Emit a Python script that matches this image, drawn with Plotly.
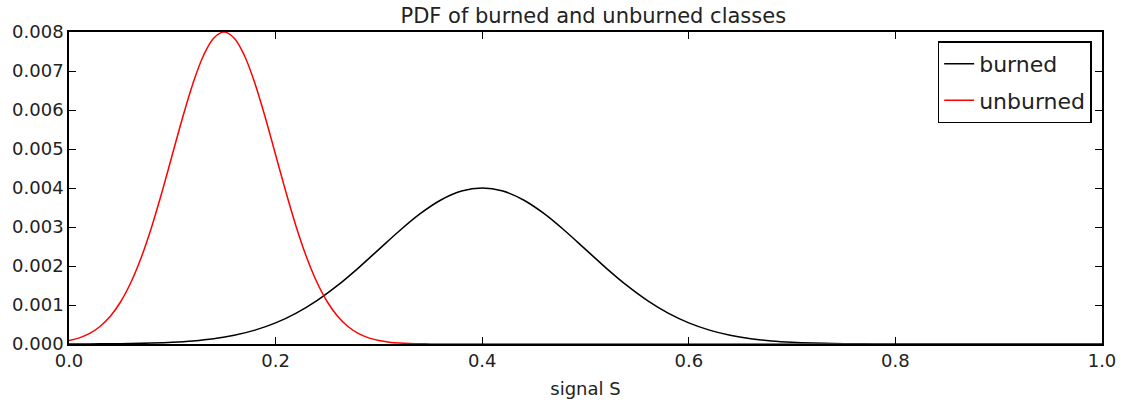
import plotly.graph_objects as go

# burned class
burned_x = [0.00, 0.02, 0.04, 0.06, 0.08, 0.10, 0.12, 0.14, 0.16, 0.18,
            0.20, 0.22, 0.24, 0.26, 0.28, 0.30, 0.32, 0.34, 0.36, 0.38,
            0.40, 0.42, 0.44, 0.46, 0.48, 0.50, 0.52, 0.54, 0.56, 0.58,
            0.60, 0.62, 0.64, 0.66, 0.68, 0.70, 0.72, 0.74, 0.76, 0.78,
            0.80, 0.82, 0.84, 0.90, 1.00]
burned_y = [0.0000013, 0.0000029, 0.0000061, 0.0000124, 0.0000239, 0.0000444,
            0.0000792, 0.000136, 0.000224, 0.000356, 0.000541, 0.000792,
            0.001112, 0.001501, 0.001947, 0.002426, 0.002904, 0.003341,
            0.003692, 0.003921, 0.004000, 0.003921, 0.003692, 0.003341,
            0.002904, 0.002426, 0.001947, 0.001501, 0.001112, 0.000792,
            0.000541, 0.000356, 0.000224, 0.000136, 0.0000792, 0.0000444,
            0.0000239, 0.0000124, 0.0000061, 0.0000029, 0.0000013, 0.0000006,
            0.0000003, 0.0, 0.0]

# unburned class
unburned_x = [0.00, 0.01, 0.02, 0.03, 0.04, 0.05, 0.06, 0.07, 0.08, 0.09,
              0.10, 0.11, 0.12, 0.13, 0.14, 0.15, 0.16, 0.17, 0.18, 0.19,
              0.20, 0.21, 0.22, 0.23, 0.24, 0.25, 0.26, 0.27, 0.28, 0.29,
              0.30, 0.31, 0.32, 0.33, 0.34, 0.35, 0.36, 0.37, 0.40, 0.50,
              0.60, 0.70, 0.80, 0.90, 1.00]
unburned_y = [0.0000889, 0.000158, 0.000272, 0.000449, 0.000711, 0.001083,
              0.001583, 0.002224, 0.003002, 0.003894, 0.004852, 0.005809,
              0.006682, 0.007385, 0.007842, 0.008000, 0.007842, 0.007385,
              0.006682, 0.005809, 0.004852, 0.003894, 0.003002, 0.002224,
              0.001583, 0.001083, 0.000711, 0.000449, 0.000272, 0.000158,
              0.0000889, 0.0000478, 0.0000247, 0.0000122, 0.0000058,
              0.0000027, 0.0000012, 0.0000005, 0.0, 0.0, 0.0, 0.0, 0.0,
              0.0, 0.0]

x_ticks = [0.0, 0.2, 0.4, 0.6, 0.8, 1.0]
x_tick_labels = ["0.0", "0.2", "0.4", "0.6", "0.8", "1.0"]
y_ticks = [0.000, 0.001, 0.002, 0.003, 0.004, 0.005, 0.006, 0.007, 0.008]
y_tick_labels = ["0.000", "0.001", "0.002", "0.003", "0.004", "0.005",
                 "0.006", "0.007", "0.008"]

fig = go.Figure()
fig.add_trace(go.Scatter(x=burned_x, y=burned_y, mode="lines", name="burned",
                         legendgroup="a",
                         line=dict(color="#000000", width=1.5, shape="spline",
                                   smoothing=1.0)))
fig.add_trace(go.Scatter(x=unburned_x, y=unburned_y, mode="lines", name="unburned",
                         legendgroup="b",
                         line=dict(color="#ff0000", width=1.5, shape="spline",
                                   smoothing=1.0)))

font_family = "DejaVu Sans"
axis_common = dict(showgrid=False, zeroline=False, showline=True,
                   linecolor="black", linewidth=1.5, mirror="allticks",
                   ticks="inside", ticklen=7, tickwidth=1, tickcolor="black",
                   tickfont=dict(family=font_family, size=18, color="#222"))

fig.update_layout(
    width=1128, height=408,
    margin=dict(l=68, r=21, t=32, b=63),
    paper_bgcolor="white", plot_bgcolor="white",
    font=dict(family=font_family, color="#222"),
    title=dict(text="PDF of burned and unburned classes", x=0.526, xanchor="center",
               y=0.962, yanchor="middle",
               font=dict(family=font_family, size=21, color="#222")),
    xaxis=dict(range=[0, 1], tickvals=x_ticks, ticktext=x_tick_labels,
               title=dict(text="signal S", standoff=12,
                          font=dict(family=font_family, size=18, color="#222")),
               **axis_common),
    yaxis=dict(range=[0, 0.008], tickvals=y_ticks, ticktext=y_tick_labels,
               **axis_common),
    legend=dict(x=0.990, y=0.97, xanchor="right", yanchor="top",
                bordercolor="black", borderwidth=1.5, bgcolor="white",
                font=dict(family=font_family, size=22, color="#222"),
                traceorder="grouped", tracegroupgap=5,
                itemwidth=30),
    showlegend=True,
)

fig.write_html("out.html")
